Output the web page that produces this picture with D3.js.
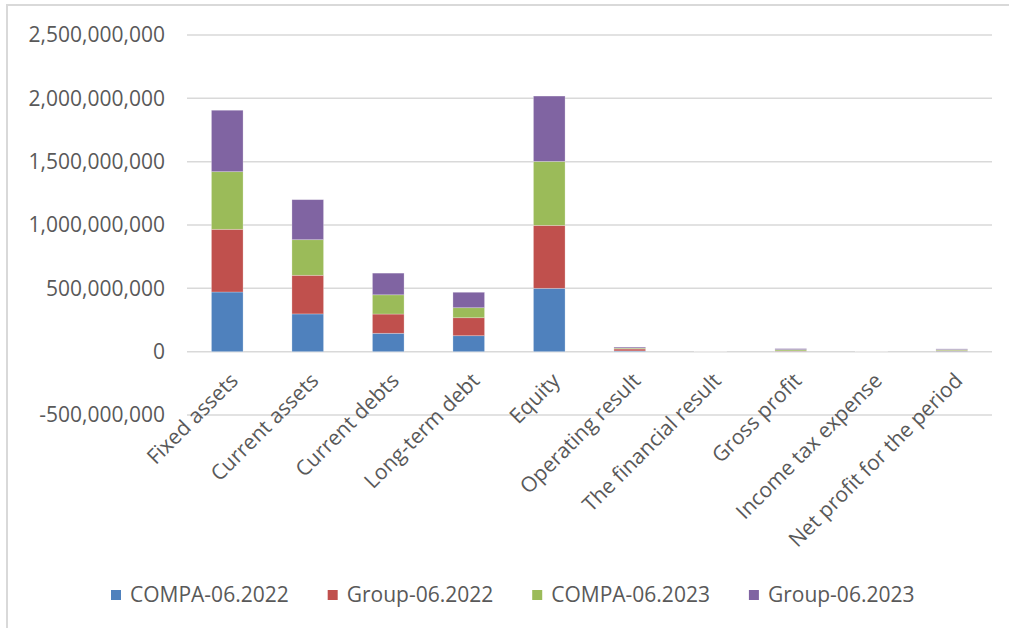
<!DOCTYPE html>
<html>
<head>
<meta charset="utf-8">
<script src="https://cdn.jsdelivr.net/npm/d3@7"></script>
<style>
  body { margin: 0; background: #fff; }
  text { font-family: "Open Sans", sans-serif; fill: #595959; }
</style>
</head>
<body>
<div id="container"></div>
<script>
/* DATA */
const categories = ["Fixed assets", "Current assets", "Current debts", "Long-term debt", "Equity",
  "Operating result", "The financial result", "Gross profit", "Income tax expense", "Net profit for the period"];
const seriesNames = ["COMPA-06.2022", "Group-06.2022", "COMPA-06.2023", "Group-06.2023"];
const compa2022 = [471e6, 298e6, 145e6, 126e6, 500e6, 6e6, 0.5e6, 3e6, 0.5e6, 4e6];
const group2022 = [495e6, 305e6, 152e6, 142e6, 497e6, 15e6, 0.5e6, 3e6, 0.5e6, 4e6];
const compa2023 = [455e6, 281e6, 152e6, 79e6, 505e6, 7e6, 0.5e6, 10e6, 0.5e6, 8e6];
const group2023 = [485e6, 316e6, 171e6, 122e6, 516e6, 8e6, 0.5e6, 8e6, 0.5e6, 6e6];
const yTicks = [-500e6, 0, 500e6, 1000e6, 1500e6, 2000e6, 2500e6];
const colors = ["#4f81bd", "#c0504d", "#9bbb59", "#8064a2"];

/* CONSTANTS */
const W = 1009, H = 628;
const plot = {left: 187, right: 992, top: 35, bottom: 415};

const svg = d3.select("#container").append("svg")
    .attr("width", W)
    .attr("height", H);

// chart border (top + left visible)
svg.append("path")
    .attr("d", "M7," + H + "V5H" + W)
    .attr("fill", "none")
    .attr("stroke", "#d9d9d9")
    .attr("stroke-width", 2);

const table = categories.map((c, i) => ({
  category: c,
  "COMPA-06.2022": compa2022[i],
  "Group-06.2022": group2022[i],
  "COMPA-06.2023": compa2023[i],
  "Group-06.2023": group2023[i]
}));

const stacked = d3.stack().keys(seriesNames)(table);

const xScale = d3.scaleBand()
    .domain(categories)
    .range([plot.left, plot.right])
    .padding(0);

const yScale = d3.scaleLinear()
    .domain([-500e6, 2500e6])
    .range([plot.bottom, plot.top]);

// gridlines
svg.append("g")
  .selectAll("line")
  .data(yTicks)
  .join("line")
    .attr("x1", plot.left)
    .attr("x2", plot.right)
    .attr("y1", d => yScale(d))
    .attr("y2", d => yScale(d))
    .attr("stroke", "#d9d9d9")
    .attr("stroke-width", 1.5);

// y axis labels (plain hyphen for negatives, like Excel)
const fmt = d3.format(",");
const yAxis = svg.append("g")
    .attr("transform", "translate(" + (plot.left - 22) + ",0)")
    .call(d3.axisLeft(yScale).tickValues(yTicks)
      .tickFormat(d => fmt(d).replace("\u2212", "-"))
      .tickSize(0).tickPadding(0));
yAxis.select(".domain").remove();
yAxis.selectAll("text")
    .style("font-size", "21px")
    .style("font-family", "'Open Sans', sans-serif")
    .attr("fill", "#595959");

// bars
const barW = xScale.bandwidth() * 0.393;
svg.append("g")
  .selectAll("g")
  .data(stacked)
  .join("g")
    .attr("fill", (d, i) => colors[i])
  .selectAll("rect")
  .data(d => d)
  .join("rect")
    .attr("x", d => xScale(d.data.category) + (xScale.bandwidth() - barW) / 2)
    .attr("y", d => yScale(d[1]))
    .attr("width", barW)
    .attr("height", d => Math.max(0, yScale(d[0]) - yScale(d[1])))
    .attr("stroke", "rgba(255,255,255,0.35)")
    .attr("stroke-width", 0.75);

// x labels, rotated
svg.append("g")
  .selectAll("text")
  .data(categories)
  .join("text")
    .attr("transform", d => "translate(" + (xScale(d) + xScale.bandwidth() / 2 + 12) + ",382) rotate(-45)")
    .attr("text-anchor", "end")
    .style("font-size", "21px")
    .text(d => d);

// legend
const legend = svg.append("g").attr("transform", "translate(111,595)");
let lx = 0;
seriesNames.forEach((name, i) => {
  const g = legend.append("g").attr("transform", "translate(" + lx + ",0)");
  g.append("rect")
    .attr("x", 0).attr("y", -5)
    .attr("width", 10).attr("height", 10)
    .attr("fill", colors[i]);
  const t = g.append("text")
    .attr("x", 19)
    .attr("dy", "0.35em")
    .style("font-size", "21px")
    .text(name);
  lx += 19 + t.node().getComputedTextLength() + 39;
});
</script>
</body>
</html>
